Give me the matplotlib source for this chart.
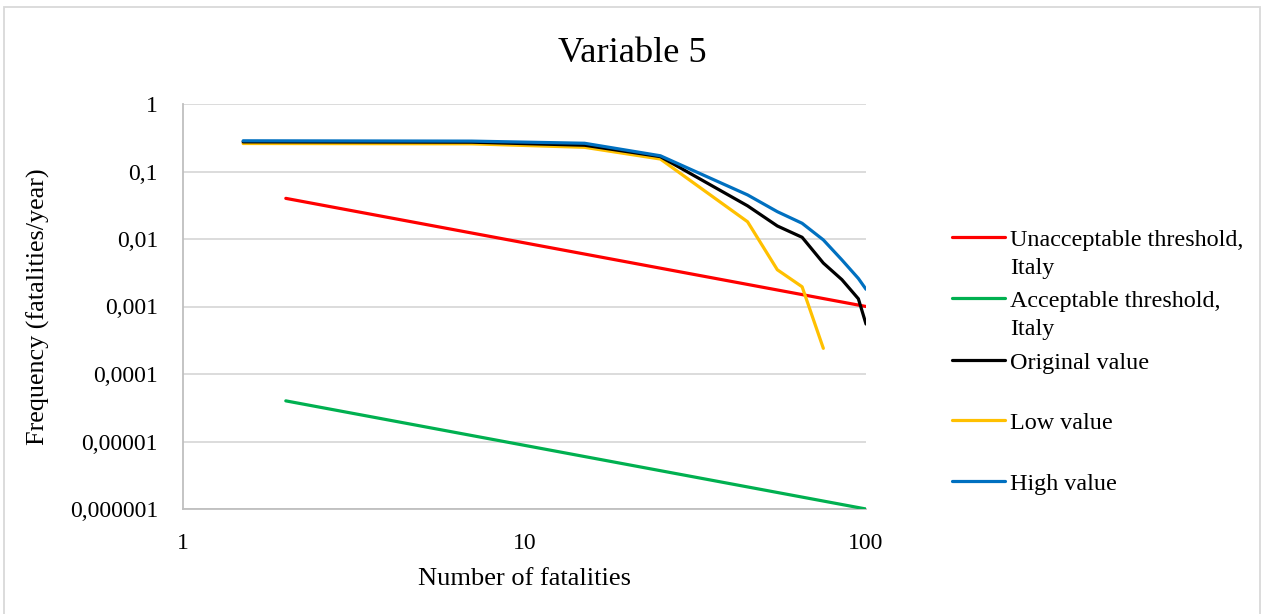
import matplotlib
matplotlib.use("Agg")
import matplotlib.pyplot as plt
from matplotlib.lines import Line2D
from matplotlib.patches import Rectangle
from matplotlib.ticker import FixedLocator, FixedFormatter, NullLocator

plt.rcParams['font.family'] = ['Liberation Serif', 'DejaVu Serif']

# ---- data ----
thr_x = [2, 100]
unacceptable_y = [0.04, 0.001]
acceptable_y = [4e-5, 1e-6]

n_x = [1.5, 7, 15, 25, 45, 55, 65, 75, 85, 95, 100]
original_y = [0.275, 0.272, 0.245, 0.166, 0.031, 0.0156, 0.0106, 0.0044, 0.0025, 0.0013, 0.00055]
high_y = [0.285, 0.282, 0.262, 0.171, 0.045, 0.0254, 0.0171, 0.0097, 0.0049, 0.0026, 0.0018]
low_x = [1.5, 7, 15, 25, 45, 55, 65, 75]
low_y = [0.26, 0.257, 0.228, 0.153, 0.018, 0.0035, 0.00196, 0.00024]

series_labels = ["Unacceptable threshold,\nItaly", "Acceptable threshold,\nItaly",
                 "Original value", "Low value", "High value"]
series_colors = ["#FF0000", "#00B050", "#000000", "#FFC000", "#0070C0"]

x_ticks = [1, 10, 100]
x_tick_labels = ["1", "10", "100"]
y_ticks = [1e-6, 1e-5, 1e-4, 1e-3, 1e-2, 1e-1, 1]
y_tick_labels = ["0,000001", "0,00001", "0,0001", "0,001", "0,01", "0,1", "1"]

title = "Variable 5"
xlabel = "Number of fatalities"
ylabel = "Frequency (fatalities/year)"

# ---- figure ----
W, H = 1263, 614
fig = plt.figure(figsize=(W / 100, H / 100), dpi=100)

def fx(px):
    return px / W

def fy(py):
    return 1 - py / H

ax = fig.add_axes([fx(183), fy(509), fx(866) - fx(183), fy(104) - fy(509)])
ax.set_xscale('log')
ax.set_yscale('log')
ax.set_xlim(1, 100)
ax.set_ylim(1e-6, 1)

lw = 2.3
ax.plot(thr_x, unacceptable_y, color=series_colors[0], lw=lw, solid_capstyle='round', zorder=3)
ax.plot(thr_x, acceptable_y, color=series_colors[1], lw=lw, solid_capstyle='round', zorder=3)
ax.plot(n_x, original_y, color=series_colors[2], lw=lw, solid_capstyle='round', zorder=4)
ax.plot(low_x, low_y, color=series_colors[3], lw=lw, solid_capstyle='round', zorder=3)
ax.plot(n_x, high_y, color=series_colors[4], lw=lw, solid_capstyle='round', zorder=5)

ax.xaxis.set_major_locator(FixedLocator(x_ticks))
ax.xaxis.set_major_formatter(FixedFormatter(x_tick_labels))
ax.xaxis.set_minor_locator(NullLocator())
ax.yaxis.set_major_locator(FixedLocator(y_ticks))
ax.yaxis.set_major_formatter(FixedFormatter(y_tick_labels))
ax.yaxis.set_minor_locator(NullLocator())

ax.tick_params(axis='both', which='both', length=0, labelsize=17, colors='black')
ax.tick_params(axis='y', pad=18)
ax.tick_params(axis='x', pad=17)

ax.grid(True, axis='y', color='#D9D9D9', lw=1.3)
ax.grid(False, axis='x')
for s in ['top', 'right']:
    ax.spines[s].set_visible(False)
for s in ['left', 'bottom']:
    ax.spines[s].set_color('#BFBFBF')
    ax.spines[s].set_linewidth(1.3)
ax.set_axisbelow(True)

fig.text(fx(632), fy(62), title, ha='center', va='baseline', fontsize=26.2)
fig.text(fx(524.5), fy(579), xlabel, ha='center', va='center', fontsize=19)
fig.text(fx(38), fy(307), ylabel, ha='center', va='center', rotation=90, fontsize=18.8)

# legend (manual, handle aligned to first text line)
leg_y = [237, 298, 360, 420, 481]
for yy, lab, col in zip(leg_y, series_labels, series_colors):
    fig.add_artist(Line2D([fx(952), fx(1005)], [fy(yy), fy(yy)], color=col, lw=lw,
                          solid_capstyle='round', transform=fig.transFigure))
    for i, line in enumerate(lab.split("\n")):
        fig.text(fx(1010), fy(yy + 9 + 28 * i), line, ha='left', va='baseline',
                 fontsize=17.4)

# outer border
fig.add_artist(Rectangle((fx(4), fy(620)), fx(1260) - fx(4), fy(7) - fy(620),
                         fill=False, edgecolor='#D9D9D9', lw=1.3,
                         transform=fig.transFigure))

fig.savefig("out.png", dpi=100)
